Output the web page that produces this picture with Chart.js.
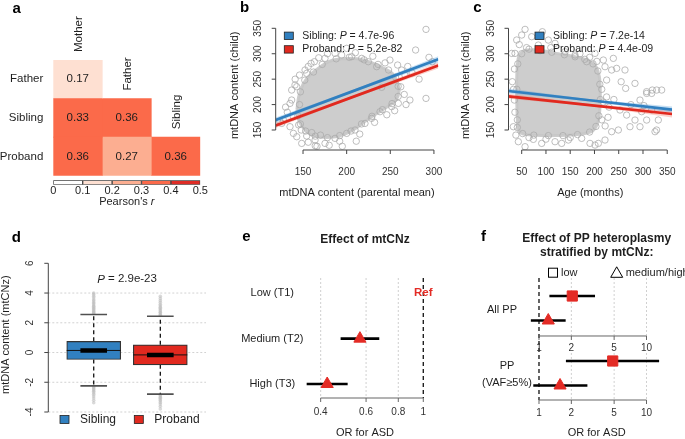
<!DOCTYPE html>
<html><head><meta charset="utf-8">
<script src="https://cdn.jsdelivr.net/npm/chart.js@4/dist/chart.umd.min.js"></script>
<style>
html,body{margin:0;padding:0;background:#fff;}
#wrap{position:relative;width:685px;height:439px;overflow:hidden;background:#fff;}
#wrap canvas{position:absolute;left:0;top:0;}
</style></head><body>
<div id="wrap">
<canvas id="ca" width="685" height="439"></canvas>
<canvas id="cbar" width="685" height="439"></canvas>
<canvas id="cb" width="685" height="439"></canvas>
<canvas id="cc" width="685" height="439"></canvas>
<canvas id="cd" width="685" height="439"></canvas>
<canvas id="ce" width="685" height="439"></canvas>
<canvas id="cf" width="685" height="439"></canvas>
</div>
<script>
// ---------- DATA ----------
// (a) correlation matrix
const corrRows = ['Father', 'Sibling', 'Proband'];
const corrCols = ['Mother', 'Father', 'Sibling'];
const corrMother = [0.17, 0.33, 0.36];
const corrFather = [null, 0.36, 0.27];
const corrSibling = [null, null, 0.36];
const rBreaks = [0, 0.1, 0.2, 0.3, 0.4, 0.5];
const rColors = ['#ffffff', '#fee0d2', '#fcae91', '#fb6a4a', '#de2d26'];
const rTicks = [0, 0.1, 0.2, 0.3, 0.4, 0.5];

// (b) child vs parental mean mtDNA content
const bTicksX = [150, 200, 250, 300];
const bTicksY = [150, 200, 250, 300, 350];
const bCoreX = [143,145,150,158,168,180,195,212,228,242,252,258,260,256,246,234,222,210,198,185,170,158,150,145];
const bCoreY = [190,215,240,258,272,285,290,290,283,272,262,245,225,208,195,182,168,153,142,136,136,142,155,170];
const bPtsX = [125.6,123.7,127.5,135.1,137,137,140.8,142.8,138.9,135.1,139,142.8,148.5,154.2,163.8,175.2,186.7,200,209.6,221,228.6,238.2,251.6,259.2,272.5,290.9,266,262,240.1,266.8,263,258.4,249.6,234.4,224.8,217.2,205.7,194.3,186.7,175.2,163,159.2,152.3,154.2,200,279,290.9,294.3,298.1,270,275,283,148,145,160,170,192,180,215,232,246,255,268,178,210,230,244,141,146,168,156,132,130,211,195,166,156,164,
  146,147,152,162,172,188,203,220,236,248,256,259,259,252,241,229,217,205,192,178,164,153,147,144];
const bPtsY = [163,166.4,170,202.4,209,228.6,238.5,235.2,176.2,156.5,143.4,136.8,123.7,138.2,130.3,123.7,133.6,143.4,150,163,172.9,186,195.9,202.4,209,212.2,220,235,233.9,258.1,268,277.8,287.6,274.5,284.3,290.9,294.2,297.4,300.7,290.9,284.3,281,268,261.4,310.6,307.3,347.9,292.9,284.3,275,262,250,150,160,145,140,128,120,142,165,180,188,200,300,302,295,282,250,258,292,275,185,195,128,118,118,126,119,
  200,225,248,264,279,290,293,288,279,268,254,236,216,202,190,177,162,148,139,135,138,148,162,178];
const bFitX = [118.7, 205, 305];
const bSibFit = [169.7, 225.0, 289.0];
const bProFit = [159.0, 213.7, 277.0];
const bSibCI = [5, 2, 6];
const bProCI = [5, 2, 6];
const bPvals = ['4.7e-96', '5.2e-82'];

// (c) child mtDNA content vs age
const cTicksX = [50, 100, 150, 200, 250, 300, 350];
const cTicksY = [150, 200, 250, 300, 350];
const cCoreX = [42,40,40,44,55,75,100,125,150,170,190,203,210,212,211,207,198,180,150,120,90,60,47];
const cCoreY = [150,200,260,295,306,308,305,300,296,292,285,275,255,225,190,165,150,143,140,139,139,141,145];
const cPtsX = [56.9,50,39.7,29.4,30.7,34.9,32.8,36.2,225.1,235.4,245.7,262.9,264.3,283.5,293.8,307.6,317.9,328.2,338.5,317.9,297.3,307.6,283.5,266.3,252.6,324.8,293.8,273.2,249.2,235.4,221.7,208,238.9,221.7,218.3,201.1,183.9,159.9,139.3,104.9,118.7,84.3,70.6,92.6,56.9,91.2,118.7,146.2,173.6,190.8,201.1,43.1,74,132.4,215,218,225,230,240,228,215,222,35,33,36,38,60,45,110,170,190,205,150,100,65,255,275,302,331.6,307.5,319.2,328.1,
  41,40,42,50,65,88,112,138,160,180,197,207,211,212,209,203,190,165,135,105,75,52,41];
const cPtsY = [347.9,336.8,327,300.7,245,208.9,156.5,300.7,248.3,268,271.2,268,231.9,241.7,208.9,222,222,228.6,228.6,189.3,186,169.6,169.6,179.4,189.3,146.7,156.5,156.5,150,146.7,130.3,123.7,290.9,274.5,287.6,300.7,284.3,297.4,304,326.9,320.4,317.1,333.5,343.3,117.2,123.7,127,130.3,133.6,123.7,120.4,127,131.6,123.7,230,205,215,195,210,175,170,158,270,230,185,140,312,318,312,300,293,285,135,132,135,245,200,198,169.6,225.4,228.6,150,
  170,230,280,300,309,306,303,298,294,289,280,266,240,210,178,157,146,141,139,139,140,143,155];
const cFitX = [22.8, 190, 360];
const cSibFit = [226.7, 208.5, 190.0];
const cProFit = [216.3, 199.0, 181.5];
const cSibCI = [5, 2, 6];
const cProCI = [5, 2, 7];
const cPvals = ['7.2e-14', '4.4e-09'];

// (d) mtCNz boxplots
const boxGroups = ['Sibling', 'Proband'];
const boxQ1 = [-0.47, -0.83];
const boxMed = [0.14, -0.16];
const boxQ3 = [0.75, 0.52];
const whiskLo = [-2.24, -2.80];
const whiskHi = [2.56, 2.44];
const outSibling = [2.62,2.68,2.75,2.81,2.9,2.96,3.05,3.11,3.2,3.29,3.36,3.47,3.55,3.68,3.79,3.91,4.0,-2.3,-2.37,-2.46,-2.52,-2.61,-2.7,-2.81,-2.93,-3.06,-3.21,-3.38];
const outProband = [2.5,2.56,2.65,2.71,2.8,2.87,2.97,3.04,3.15,3.24,3.38,3.49,3.64,3.78,-2.86,-2.92,-3.01,-3.07,-3.17,-3.24,-3.36,-3.47,-3.61,-3.79];
const dTicks = [-4, -2, 0, 2, 4, 6];
const dP = '2.9e-23';

// (e) effect of mtCNz tertiles
const eRows = ['Low (T1)', 'Medium (T2)', 'High (T3)'];
const eOR = [null, 0.568, 0.424];
const eLo = [null, 0.478, 0.353];
const eHi = [null, 0.675, 0.509];
const eTicks = [0.4, 0.6, 0.8, 1];

// (f) PP heteroplasmy stratified by mtCNz
const fGroups = [['All PP'], ['PP', '(VAF\u22655%)']];
const fStrata = ['low', 'medium/high'];
const fORLow = [2.04, 4.85];
const fLoLow = [1.25, 1.78];
const fHiLow = [3.32, 13.1];
const fORMed = [1.22, 1.57];
const fLoMed = [0.84, 0.885];
const fHiMed = [1.77, 2.82];
const fTicks = [1, 2, 5, 10];
const OR_REF = 1;

// ---------- HELPERS ----------
const W = 685, H = 439;
const FONT = '"Liberation Sans", Arial, Helvetica, sans-serif';
const BLUE = '#3180c0', RED = '#e1291f', MARK = '#e32b25', AXC = '#444', TXT = '#1e1e1e';
function font(size, weight, style) { return (style || 'normal') + ' ' + (weight || 'normal') + ' ' + size + 'px ' + FONT; }
function txt(ctx, s, x, y, o) {
  o = o || {};
  ctx.save();
  ctx.font = font(o.size || 11, o.weight, o.style);
  ctx.fillStyle = o.color || TXT;
  ctx.textAlign = o.align || 'center';
  ctx.textBaseline = o.base || 'middle';
  ctx.translate(x, y);
  if (o.rot) ctx.rotate(o.rot);
  ctx.fillText(s, 0, 0);
  ctx.restore();
}
function rich(ctx, parts, x, y, o) {
  o = o || {};
  const size = o.size || 11;
  ctx.save();
  let w = 0;
  const ws = parts.map(p => { ctx.font = font(size, o.weight, p[1] ? 'italic' : 'normal'); const m = ctx.measureText(p[0]).width; w += m; return m; });
  let cx = o.align === 'center' ? x - w / 2 : (o.align === 'right' ? x - w : x);
  ctx.textBaseline = 'middle'; ctx.textAlign = 'left'; ctx.fillStyle = o.color || TXT;
  parts.forEach((p, i) => { ctx.font = font(size, o.weight, p[1] ? 'italic' : 'normal'); ctx.fillText(p[0], cx, y); cx += ws[i]; });
  ctx.restore();
}
function seg(ctx, x0, y0, x1, y1, color, width, dash) {
  ctx.save(); ctx.beginPath(); ctx.strokeStyle = color; ctx.lineWidth = width || 1; ctx.setLineDash(dash || []);
  ctx.moveTo(x0, y0); ctx.lineTo(x1, y1); ctx.stroke(); ctx.restore();
}
function hAxis(ctx, sc, ticks, y, labY, col, size) {
  const xs = ticks.map(t => sc.getPixelForValue(t));
  seg(ctx, xs[0], y, xs[xs.length - 1], y, col, 1);
  xs.forEach((px, i) => { seg(ctx, px, y, px, y + 4, col, 1); txt(ctx, String(ticks[i]), px, labY, { size: size || 10, color: '#333' }); });
}
function vAxis(ctx, sc, ticks, x, labX, col, size) {
  const ys = ticks.map(t => sc.getPixelForValue(t));
  seg(ctx, x, ys[0], x, ys[ys.length - 1], col, 1);
  ys.forEach((py, i) => { seg(ctx, x - 4, py, x, py, col, 1); txt(ctx, String(ticks[i]), labX, py, { size: size || 10, color: '#333', rot: -Math.PI / 2 }); });
}
function letter(ctx, s, x, y) { txt(ctx, s, x, y, { size: 15, weight: 'bold', align: 'left', base: 'alphabetic', color: '#000' }); }
function baseOpts(area, scales, extra) {
  return Object.assign({
    responsive: false, animation: false, devicePixelRatio: 1, events: [],
    layout: { padding: { left: area[0], top: area[1], right: W - area[2], bottom: H - area[3] } },
    scales: scales,
    plugins: { legend: { display: false }, tooltip: { enabled: false } }
  }, extra || {});
}
function pts(xs, ys) { return xs.map((v, i) => ({ x: v, y: ys[i] })); }
function closed(xs, ys) { const d = pts(xs, ys); d.push(d[0]); return d; }
function bandPts(xs, ys, ws) {
  const up = xs.map((v, i) => ({ x: v, y: ys[i] + ws[i] }));
  const lo = xs.map((v, i) => ({ x: v, y: ys[i] - ws[i] })).reverse();
  const d = up.concat(lo); d.push(d[0]); return d;
}

// ---------- (a) heatmap ----------
const corrVals = [corrMother, corrFather, corrSibling];
function rColor(v) { for (let k = 0; k < rColors.length; k++) if (v < rBreaks[k + 1]) return rColors[k]; return rColors[rColors.length - 1]; }
new Chart('ca', {
  type: 'bar',
  data: {
    labels: corrRows,
    datasets: corrCols.map((c, j) => {
      const cells = corrRows.map((r, i) => ({ r: r, v: corrVals[j][i] })).filter(o => o.v != null);
      return {
        label: c, data: cells.map(o => ({ y: o.r, x: [j, j + 1] })),
        backgroundColor: cells.map(o => rColor(o.v)),
        borderWidth: 0, grouped: false, categoryPercentage: 1, barPercentage: 1
      };
    })
  },
  options: baseOpts([53.3, 60, 200.3, 175.7], {
    x: { type: 'linear', min: 0, max: corrCols.length, display: false },
    y: { type: 'category', display: false, offset: true }
  }, { indexAxis: 'y' }),
  plugins: [{
    id: 'pa', afterDatasetsDraw(ch) {
      const ctx = ch.ctx, x = ch.scales.x, y = ch.scales.y, a = ch.chartArea;
      const band = (a.bottom - a.top) / corrRows.length;
      corrRows.forEach((r, i) => {
        const yc = y.getPixelForValue(i);
        txt(ctx, r, a.left - 10, yc, { size: 11.5, align: 'right' });
        corrCols.forEach((c, j) => { const v = corrVals[j][i]; if (v != null) txt(ctx, v.toFixed(2), x.getPixelForValue(j + 0.5), yc, { size: 11.5 }); });
      });
      corrCols.forEach((c, j) => {
        const first = corrVals[j].findIndex(v => v != null);
        const top = y.getPixelForValue(first) - band / 2;
        txt(ctx, c, x.getPixelForValue(j + 0.5) + 1, top - 8, { size: 11.5, align: 'left', rot: -Math.PI / 2 });
      });
      letter(ctx, 'a', 12.5, 13);
    }
  }]
});
new Chart('cbar', {
  type: 'bar',
  data: {
    labels: ['r'],
    datasets: rColors.map((c, k) => ({
      data: [{ y: 'r', x: [rBreaks[k], rBreaks[k + 1]] }], backgroundColor: c, borderColor: '#444', borderWidth: 1,
      borderSkipped: false, grouped: false, categoryPercentage: 1, barPercentage: 1
    }))
  },
  options: baseOpts([53.3, 180.3, 200.3, 184.8], {
    x: { type: 'linear', min: rBreaks[0], max: rBreaks[rBreaks.length - 1], display: false },
    y: { type: 'category', display: false }
  }, { indexAxis: 'y' }),
  plugins: [{
    id: 'pbar', afterDatasetsDraw(ch) {
      const x = ch.scales.x;
      rTicks.forEach(t => txt(ch.ctx, String(t), x.getPixelForValue(t), 190.8, { size: 11 }));
      rich(ch.ctx, [["Pearson's ", false], ['r', true]], (ch.chartArea.left + ch.chartArea.right) / 2, 201.5, { size: 11, align: 'center' });
    }
  }]
});

// ---------- (b), (c) scatter ----------
function scatterPanel(id, o) {
  const ds = [
    { data: pts(o.fitX, o.sib), showLine: true, borderColor: BLUE, borderWidth: 2.7, pointRadius: 0, order: 0 },
    { data: pts(o.fitX, o.pro), showLine: true, borderColor: RED, borderWidth: 2.7, pointRadius: 0, order: 0 },
    { data: bandPts(o.fitX, o.sib, o.sibCI), showLine: true, fill: 'shape', backgroundColor: 'rgba(70,150,215,0.30)', borderColor: 'rgba(0,0,0,0)', borderWidth: 1, pointRadius: 0, order: 1 },
    { data: bandPts(o.fitX, o.pro, o.proCI), showLine: true, fill: 'shape', backgroundColor: 'rgba(240,90,70,0.28)', borderColor: 'rgba(0,0,0,0)', borderWidth: 1, pointRadius: 0, order: 1 },
    { data: pts(o.ptsX, o.ptsY), showLine: false, pointRadius: 3.2, pointBorderWidth: 0.9, pointBorderColor: 'rgba(170,170,170,0.85)', pointBackgroundColor: 'rgba(255,255,255,0)', order: 2 },
    { data: closed(o.coreX, o.coreY), showLine: true, fill: 'shape', backgroundColor: '#cdcdcd', borderColor: 'rgba(198,198,198,0.9)', borderWidth: 3, tension: 0.25, pointRadius: 0, order: 3 }
  ];
  return new Chart(id, {
    type: 'scatter', data: { datasets: ds },
    options: baseOpts(o.area, {
      x: { type: 'linear', min: o.xMin, max: o.xMax, display: false },
      y: { type: 'linear', min: o.yMin, max: o.yMax, display: false }
    }),
    plugins: [{
      id: id + 'ax', afterDraw(ch) {
        const ctx = ch.ctx, a = ch.chartArea, x = ch.scales.x, y = ch.scales.y;
        hAxis(ctx, x, o.ticksX, a.bottom, a.bottom + 22, AXC, 10);
        vAxis(ctx, y, o.ticksY, a.left, a.left - 17.5, AXC, 10);
        txt(ctx, o.xTitle, (a.left + a.right) / 2, a.bottom + 43, { size: 11 });
        txt(ctx, 'mtDNA content (child)', o.yTitleX, (a.top + a.bottom) / 2 - 2, { size: 11, rot: -Math.PI / 2 });
        [['Sibling', BLUE, o.p[0]], ['Proband', RED, o.p[1]]].forEach((L, k) => {
          const yy = 35.7 + k * 13.6;
          ctx.save(); ctx.fillStyle = L[1]; ctx.strokeStyle = '#222'; ctx.lineWidth = 0.8;
          ctx.fillRect(o.legX, yy - 3.6, 9, 7.4); ctx.strokeRect(o.legX, yy - 3.6, 9, 7.4); ctx.restore();
          rich(ctx, [[L[0] + ': ', false], ['P', true], [' = ' + L[2], false]], o.legX + 18, yy, { size: 10.5, align: 'left' });
        });
        letter(ctx, o.letter, o.letterX, 11.7);
      }
    }]
  });
}
scatterPanel('cb', {
  area: [275.7, 24.6, 438.3, 150], xMin: 118.7, xMax: 305, yMin: 110.7, yMax: 357.3,
  fitX: bFitX, sib: bSibFit, pro: bProFit, sibCI: bSibCI, proCI: bProCI,
  ptsX: bPtsX, ptsY: bPtsY, coreX: bCoreX, coreY: bCoreY, ticksX: bTicksX, ticksY: bTicksY,
  xTitle: 'mtDNA content (parental mean)', yTitleX: 235.3, legX: 284.3, p: bPvals, letter: 'b', letterX: 240
});
scatterPanel('cc', {
  area: [508.5, 24.6, 672.1, 150], xMin: 22.8, xMax: 360, yMin: 110.7, yMax: 357.3,
  fitX: cFitX, sib: cSibFit, pro: cProFit, sibCI: cSibCI, proCI: cProCI,
  ptsX: cPtsX, ptsY: cPtsY, coreX: cCoreX, coreY: cCoreY, ticksX: cTicksX, ticksY: cTicksY,
  xTitle: 'Age (months)', yTitleX: 465.8, legX: 535, p: cPvals, letter: 'c', letterX: 473.3
});

// ---------- (d) boxplot ----------
(function () {
  const outs = [outSibling, outProband];
  const fills = [BLUE, RED];
  const ds = [{
    type: 'bar', data: boxGroups.map((g, i) => ({ x: i + 1, y: [boxQ1[i], boxQ3[i]] })),
    backgroundColor: fills, borderColor: '#333', borderWidth: 1.2, borderSkipped: false, barThickness: 54, order: 2
  }];
  boxGroups.forEach((g, i) => {
    const c = i + 1;
    const ln = (data, color, w, dash, order) => ({ type: 'line', data: data, borderColor: color, borderWidth: w, borderDash: dash || [], pointRadius: 0, order: order });
    ds.push({ type: 'scatter', data: outs[i].map(v => ({ x: c, y: v })), pointRadius: 1.8, pointBorderWidth: 0, pointBackgroundColor: 'rgba(185,185,185,0.55)', order: 5 });
    ds.push(ln([{ x: c, y: boxQ3[i] }, { x: c, y: whiskHi[i] }], '#111', 1.3, [4, 3], 4));
    ds.push(ln([{ x: c, y: boxQ1[i] }, { x: c, y: whiskLo[i] }], '#111', 1.3, [4, 3], 4));
    ds.push(ln([{ x: c - 0.2, y: whiskHi[i] }, { x: c + 0.2, y: whiskHi[i] }], '#505050', 1.6, null, 3));
    ds.push(ln([{ x: c - 0.2, y: whiskLo[i] }, { x: c + 0.2, y: whiskLo[i] }], '#505050', 1.6, null, 3));
    ds.push(ln([{ x: c - 0.405, y: boxMed[i] }, { x: c + 0.405, y: boxMed[i] }], '#111', 1, null, 1));
    ds.push(ln([{ x: c - 0.2, y: boxMed[i] }, { x: c + 0.2, y: boxMed[i] }], '#000', 4.5, null, 0));
  });
  new Chart('cd', {
    type: 'bar', data: { datasets: ds },
    options: baseOpts([48.3, 263.3, 206, 412], {
      x: { type: 'linear', min: 0.318, max: 2.686, display: false, offset: false },
      y: { type: 'linear', min: dTicks[0], max: dTicks[dTicks.length - 1], display: false }
    }),
    plugins: [{
      id: 'pd',
      beforeDatasetsDraw(ch) {
        const ctx = ch.ctx, a = ch.chartArea, y = ch.scales.y;
        dTicks.filter(t => t < dTicks[dTicks.length - 1]).forEach(t => {
          const py = y.getPixelForValue(t); seg(ctx, a.left, py, a.right, py, '#d2d2d2', 1, [2, 2]);
        });
      },
      afterDraw(ch) {
        const ctx = ch.ctx, a = ch.chartArea, x = ch.scales.x, y = ch.scales.y;
        vAxis(ctx, y, dTicks, a.left, a.left - 17.8, AXC, 10);
        txt(ctx, 'mtDNA content (mtCNz)', 6.3, (a.top + a.bottom) / 2 - 3, { size: 11, rot: -Math.PI / 2 });
        rich(ctx, [['P', true], [' = ' + dP, false]], (x.getPixelForValue(1) + x.getPixelForValue(2)) / 2, 279.3, { size: 11.5, align: 'center' });
        [[boxGroups[0], BLUE, 60], [boxGroups[1], RED, 134.3]].forEach(L => {
          ctx.save(); ctx.fillStyle = L[1]; ctx.strokeStyle = '#222'; ctx.lineWidth = 0.8;
          ctx.fillRect(L[2], 415.5, 9, 8); ctx.strokeRect(L[2], 415.5, 9, 8); ctx.restore();
          txt(ctx, L[0], L[2] + 20, 419.8, { size: 12, align: 'left' });
        });
        letter(ctx, 'd', 11.7, 241.7);
      }
    }]
  });
})();

// ---------- (e) forest plot ----------
(function () {
  const rowY = i => eRows.length - i;
  const ds = [];
  eRows.forEach((r, i) => {
    if (eOR[i] == null) return;
    ds.push({ data: [{ x: eLo[i], y: rowY(i) }, { x: eHi[i], y: rowY(i) }], showLine: true, borderColor: '#000', borderWidth: 2.6, pointRadius: 0, order: 1 });
  });
  ds.push({
    data: eRows.map((r, i) => ({ x: eOR[i], y: rowY(i) })).filter(p => p.x != null),
    pointStyle: 'triangle', pointRadius: 7, pointBackgroundColor: MARK, pointBorderColor: MARK, pointBorderWidth: 1, order: 0
  });
  new Chart('ce', {
    type: 'scatter', data: { datasets: ds },
    options: baseOpts([300, 278, 440, 398], {
      x: { type: 'logarithmic', min: 0.3326, max: 1.161, display: false },
      y: { type: 'linear', min: 0.691, max: 3.337, display: false }
    }),
    plugins: [{
      id: 'pe',
      beforeDatasetsDraw(ch) {
        const ctx = ch.ctx, a = ch.chartArea, x = ch.scales.x;
        eTicks.forEach(t => { if (t !== OR_REF) { const px = x.getPixelForValue(t); seg(ctx, px, a.top, px, a.bottom, '#d0d0d0', 1, [2, 2]); } });
        const p1 = x.getPixelForValue(OR_REF); seg(ctx, p1, a.top, p1, a.bottom, '#111', 1.3, [4, 3]);
      },
      afterDraw(ch) {
        const ctx = ch.ctx, a = ch.chartArea, x = ch.scales.x, y = ch.scales.y;
        hAxis(ctx, x, eTicks, a.bottom, a.bottom + 14.7, '#666', 10);
        eRows.forEach((r, i) => {
          txt(ctx, r, 272.3, y.getPixelForValue(rowY(i)), { size: 11 });
          if (eOR[i] == null) txt(ctx, 'Ref', x.getPixelForValue(OR_REF), y.getPixelForValue(rowY(i)), { size: 11.5, weight: 'bold', color: MARK });
        });
        txt(ctx, 'Effect of mtCNz', 365, 239.3, { size: 12, weight: 'bold' });
        txt(ctx, 'OR for ASD', 365, 433.3, { size: 11 });
        letter(ctx, 'e', 242.3, 240.7);
      }
    }]
  });
})();

// ---------- (f) stratified forest plot ----------
(function () {
  const STEP0 = 0.735, GAP = 2.653, MID = 2.367, LOWTOP = 3.06;
  const rowU = (g, s) => STEP0 + s + g * GAP;
  const ors = [fORLow, fORMed], los = [fLoLow, fLoMed], his = [fHiLow, fHiMed];
  const styles = ['rect', 'triangle'];
  const ds = [];
  fGroups.forEach((g, gi) => fStrata.forEach((s, si) => {
    ds.push({ data: [{ x: los[si][gi], y: rowU(gi, si) }, { x: his[si][gi], y: rowU(gi, si) }], showLine: true, borderColor: '#000', borderWidth: 2.6, pointRadius: 0, order: 1 });
  }));
  fStrata.forEach((s, si) => ds.push({
    data: fGroups.map((g, gi) => ({ x: ors[si][gi], y: rowU(gi, si) })),
    pointStyle: styles[si], pointRadius: si === 0 ? 7.2 : 7, pointBackgroundColor: MARK, pointBorderColor: MARK, pointBorderWidth: 1, order: 0
  }));
  new Chart('cf', {
    type: 'scatter', data: { datasets: ds },
    options: baseOpts([520, 278, 675, 400], {
      x: { type: 'logarithmic', min: 0.6658, max: 18.41, display: false },
      y: { type: 'linear', reverse: true, min: 0, max: 4.98, display: false }
    }),
    plugins: [{
      id: 'pf',
      beforeDatasetsDraw(ch) {
        const ctx = ch.ctx, a = ch.chartArea, x = ch.scales.x, y = ch.scales.y;
        const mid = y.getPixelForValue(MID), lowTop = y.getPixelForValue(LOWTOP);
        fTicks.forEach(t => {
          if (t === OR_REF) return;
          const px = x.getPixelForValue(t);
          seg(ctx, px, a.top, px, mid, '#d0d0d0', 1, [2, 2]);
          seg(ctx, px, lowTop, px, a.bottom, '#d0d0d0', 1, [2, 2]);
        });
        const p1 = x.getPixelForValue(OR_REF); seg(ctx, p1, a.top, p1, a.bottom, '#111', 1.3, [4, 3]);
      },
      afterDraw(ch) {
        const ctx = ch.ctx, a = ch.chartArea, x = ch.scales.x, y = ch.scales.y;
        const mid = y.getPixelForValue(MID);
        hAxis(ctx, x, fTicks, mid, mid + 12.3, '#666', 10);
        hAxis(ctx, x, fTicks, a.bottom, a.bottom + 13, '#666', 10);
        fGroups.forEach((g, gi) => {
          const yc = (y.getPixelForValue(rowU(gi, 0)) + y.getPixelForValue(rowU(gi, 1))) / 2 + 1.5;
          if (g.length === 1) txt(ctx, g[0], 502, yc, { size: 11 });
          else g.forEach((line, k) => txt(ctx, line, 507, yc + (k - 0.5) * 16.6, { size: 11 }));
        });
        ctx.save(); ctx.strokeStyle = '#000'; ctx.lineWidth = 1;
        ctx.strokeRect(548.5, 268.2, 9, 9);
        ctx.beginPath(); ctx.moveTo(616.7, 266.8); ctx.lineTo(610.7, 277.3); ctx.lineTo(622.7, 277.3); ctx.closePath(); ctx.stroke();
        ctx.restore();
        txt(ctx, fStrata[0], 561, 272.7, { size: 11, align: 'left' });
        txt(ctx, fStrata[1], 625.7, 272.7, { size: 11, align: 'left' });
        txt(ctx, 'Effect of PP heteroplasmy', 596.7, 238.3, { size: 12, weight: 'bold' });
        txt(ctx, 'stratified by mtCNz:', 596.7, 252.3, { size: 12, weight: 'bold' });
        txt(ctx, 'OR for ASD', 596.7, 433.3, { size: 11 });
        letter(ctx, 'f', 481, 240.7);
      }
    }]
  });
})();
</script>
</body></html>
